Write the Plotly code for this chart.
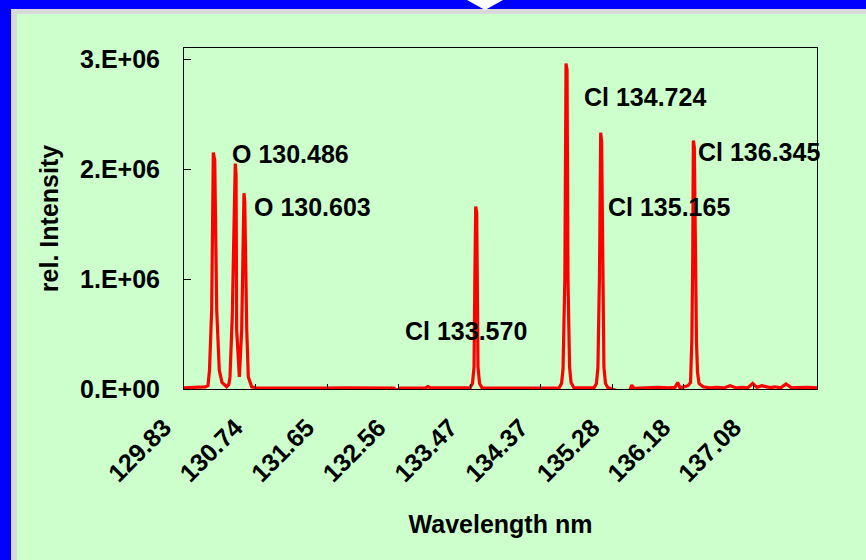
import plotly.graph_objects as go

# ---------------- data ----------------
wavelength = [
    129.830, 129.950, 130.050, 130.100, 130.135, 130.154, 130.182, 130.203, 130.221, 130.246,
    130.279, 130.313, 130.373, 130.400, 130.415, 130.444, 130.482, 130.492, 130.500, 130.521,
    130.534, 130.564, 130.593, 130.603, 130.628, 130.648, 130.691, 130.746, 131.000, 131.300,
    131.600, 131.900, 132.200, 132.500, 132.540, 132.580, 132.900, 132.934, 132.970, 133.200,
    133.469, 133.500, 133.520, 133.530, 133.541, 133.554, 133.562, 133.570, 133.590, 133.621,
    133.900, 134.200, 134.500, 134.601, 134.633, 134.652, 134.675, 134.690, 134.703, 134.715,
    134.735, 134.754, 134.792, 134.950, 135.045, 135.077, 135.096, 135.115, 135.131, 135.143,
    135.156, 135.172, 135.192, 135.224, 135.339, 135.403, 135.504, 135.526, 135.555, 135.700,
    135.861, 136.000, 136.077, 136.111, 136.140, 136.191, 136.242, 136.274, 136.291, 136.302,
    136.310, 136.322, 136.335, 136.350, 136.363, 136.382, 136.433, 136.520, 136.607, 136.700,
    136.777, 136.860, 136.942, 137.000, 137.065, 137.120, 137.180, 137.285, 137.349, 137.420,
    137.489, 137.560, 137.625, 137.769, 137.883,
]
intensity = [
    10000, 12000, 15000, 20000, 30000, 170000, 720000, 2150000, 2080000, 720000,
    170000, 60000, 20000, 40000, 110000, 660000, 2050000, 1950000, 540000, 190000,
    110000, 540000, 1780000, 1700000, 540000, 110000, 20000, 10000, 8000, 10000,
    8000, 10000, 8000, 8000, -15000, 8000, 10000, 22000, 10000, 8000,
    10000, 50000, 200000, 1000000, 1660000, 1600000, 800000, 200000, 50000, 10000,
    8000, 10000, 8000, 10000, 50000, 180000, 1000000, 2960000, 2900000, 1000000,
    200000, 60000, 10000, 8000, 10000, 50000, 200000, 1000000, 2330000, 2250000,
    1000000, 200000, 50000, 10000, -15000, -25000, -10000, 35000, 5000, 8000,
    15000, 10000, 15000, 60000, 10000, 20000, 30000, 60000, 450000, 1200000,
    2260000, 2200000, 1000000, 420000, 150000, 50000, 20000, 10000, 15000, 10000,
    30000, 10000, 15000, 10000, 50000, 15000, 30000, 12000, 20000, 10000,
    45000, 10000, 12000, 15000, 10000,
]

x_tick_values = [129.83, 130.74, 131.65, 132.56, 133.47, 134.37, 135.28, 136.18, 137.08]
x_tick_labels = ["129.83", "130.74", "131.65", "132.56", "133.47", "134.37", "135.28", "136.18", "137.08"]
y_tick_values = [0, 1000000, 2000000, 3000000]
y_tick_labels = ["0.E+00", "1.E+06", "2.E+06", "3.E+06"]

peak_labels = ["O 130.486", "O 130.603", "Cl 133.570", "Cl 134.724", "Cl 135.165", "Cl 136.345"]

# ---------------- layout geometry (pixels) ----------------
W, H = 866, 560
L, R, T, B = 184, 817, 48, 389          # plot area edges in pixels
X0, X1 = 129.83, 137.883
Y0, Y1 = 0, 3100000

def px2x(px):
    return X0 + (px - L) / (R - L) * (X1 - X0)

def py2y(py):
    return Y0 + (B - py) / (B - T) * (Y1 - Y0)

def pxp(px):
    return (px - L) / (R - L)

def pyp(py):
    return (B - py) / (B - T)

label_pos = [(229.7, 154), (252, 207), (403, 330.5), (582, 97), (606.3, 207), (696.3, 152)]

FONT = "Arial, 'Liberation Sans', sans-serif"
GREEN = "#CCFFCC"

fig = go.Figure()
fig.add_trace(go.Scatter(
    x=wavelength, y=intensity, mode="lines",
    line=dict(color="#FF0000", width=3.2),
    showlegend=False, hoverinfo="x+y",
))

annotations = []
for text, (px, py) in zip(peak_labels, label_pos):
    annotations.append(dict(
        x=px2x(px), y=py2y(py), xref="x", yref="y", text=text, showarrow=False,
        xanchor="left", yanchor="middle",
        font=dict(family=FONT, size=25, color="black", weight="bold"),
    ))

def rect(x0, y0, x1, y1, color):
    return dict(type="rect", xref="paper", yref="paper",
                x0=pxp(x0), x1=pxp(x1), y0=pyp(y1), y1=pyp(y0),
                fillcolor=color, line=dict(width=0), layer="above")

shapes = [
    rect(0, 0, W, 9, "#0000FF"),
    rect(0, 0, 11, H, "#0000FF"),
    rect(11, 9, W, 14, "#D9D9D9"),
    rect(11, 9, 17, H, "#D9D9D9"),
    dict(type="path", xref="paper", yref="paper",
         path=f"M {pxp(467)},{pyp(0)} L {pxp(503)},{pyp(0)} L {pxp(485)},{pyp(10)} Z",
         fillcolor="white", line=dict(width=0), layer="above"),
]

fig.update_layout(
    width=W, height=H, autosize=False,
    margin=dict(l=L, r=W - R, t=T, b=H - B, pad=0),
    paper_bgcolor=GREEN, plot_bgcolor=GREEN,
    font=dict(family=FONT, size=25, color="black", weight="bold"),
    annotations=annotations, shapes=shapes,
    xaxis=dict(
        range=[X0, X1], tickmode="array", tickvals=x_tick_values, ticktext=x_tick_labels,
        tickangle=-45, ticks="inside", ticklen=5, tickcolor="black", tickwidth=1,
        showline=True, linecolor="black", linewidth=1, mirror=True,
        showgrid=False, zeroline=False, automargin=False,
        ticklabelstandoff=13, ticklabelshift=-20,
        tickfont=dict(family=FONT, size=25, color="black", weight="bold"),
        title=dict(text="Wavelength nm", standoff=29,
                   font=dict(family=FONT, size=25, color="black", weight="bold")),
    ),
    yaxis=dict(
        range=[Y0, Y1], tickmode="array", tickvals=y_tick_values, ticktext=y_tick_labels,
        ticks="inside", ticklen=7, tickcolor="black", tickwidth=1,
        showline=True, linecolor="black", linewidth=1, mirror=True,
        showgrid=False, zeroline=False, automargin=False, ticklabelstandoff=18,
        tickfont=dict(family=FONT, size=25, color="black", weight="bold"),
        title=dict(text="rel. Intensity", standoff=14,
                   font=dict(family=FONT, size=25, color="black", weight="bold")),
    ),
)

fig.write_html(
    "out.html",
    config={"displayModeBar": False},
    post_script="document.body.style.margin='0';document.body.style.overflow='hidden';",
)
